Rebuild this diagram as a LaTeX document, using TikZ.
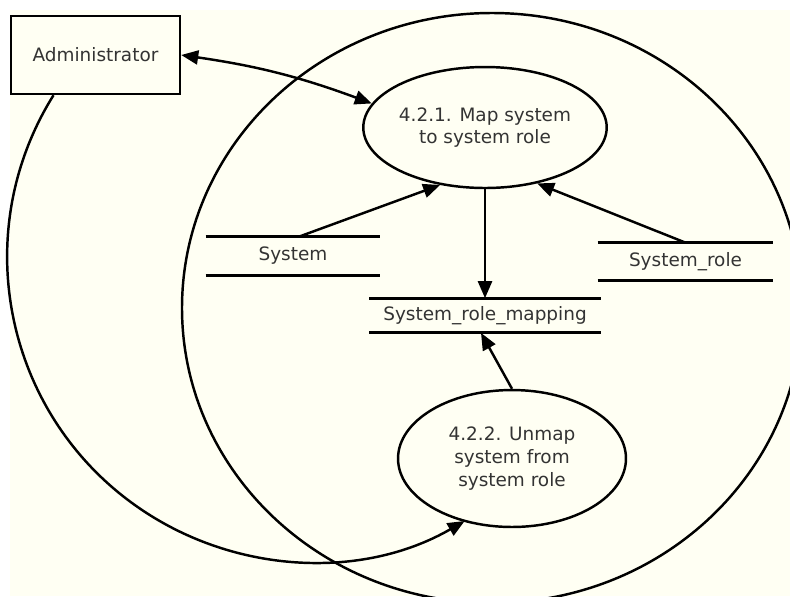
\documentclass[tikz,border=0pt]{standalone}
\usepackage{fontspec}
\setmainfont{DejaVu Sans}
\usetikzlibrary{arrows.meta,shapes.geometric,positioning}
\definecolor{paper}{RGB}{255,255,243}
\tikzstyle{flow} = [line width=1.4pt, -{Triangle[length=3.4mm,width=2.8mm]}]
\tikzstyle{flowboth} = [line width=1.4pt, {Triangle[length=3.4mm,width=2.8mm]}-{Triangle[length=3.4mm,width=2.8mm]}]
\tikzstyle{entity} = [rectangle, draw, line width=1.4pt, text=black!80, font=\fontsize{10.5}{13}\selectfont]
\tikzstyle{process} = [ellipse, draw, line width=1.4pt, align=center, inner sep=0pt, text=black!80, font=\fontsize{10.5}{13}\selectfont]
\tikzstyle{store} = [inner sep=0pt, text=black!80, font=\fontsize{10.5}{13}\selectfont]
\tikzstyle{storeline} = [line width=1.7pt]

\begin{document}
\begin{tikzpicture}[x=0.02cm, y=-0.02cm]
                \useasboundingbox (0,0) rectangle (790,596);
                \fill [paper] (10,10) rectangle (790,596);
                \begin{scope}
                    \clip (10,10) rectangle (790,596);
                    \draw [line width=1.4pt] (492,308) ellipse [x radius=310, y radius=295];
                \end{scope}

                \node (admin) [entity, minimum width=3.38cm, minimum height=1.56cm] at (95.5,55) {Administrator};
                \node (p1) [process, minimum width=4.8cm, minimum height=2.42cm] at (485,127.5) {4.2.1. Map system\\to system role};
                \node (map) [store, minimum width=4.62cm, minimum height=0.68cm, below=2.18cm of p1.south, anchor=north] {System\_role\_mapping};
                \node (sys) [store, minimum width=3.48cm, minimum height=0.76cm] at (293,256) {System};
                \node (role) [store, minimum width=3.5cm, minimum height=0.74cm] at (685.5,261.5) {System\_role};
                \node (p2) [process, minimum width=4.56cm, minimum height=2.74cm] at (512,458.5) {4.2.2. Unmap\\system from\\system role};

                \foreach \s in {sys,role,map}
                    \draw [storeline] (\s.north west) -- (\s.north east) (\s.south west) -- (\s.south east);

                \draw [flowboth, bend left=6] (admin.east) to (p1.168);
                \draw [flow] ([xshift=0.12cm]sys.north) -- (p1.232);
                \draw [flow] (role.north) -- (p1.313);
                \draw [flow] (p1.south) -- (p1.south |- map.north);
                \draw [flow] (p2.north) -- ([xshift=-0.08cm]map.south);
                \draw [flow] ([xshift=-0.84cm]admin.south) arc [start angle=212, end angle=60, radius=305];
            \end{tikzpicture}
\end{document}
